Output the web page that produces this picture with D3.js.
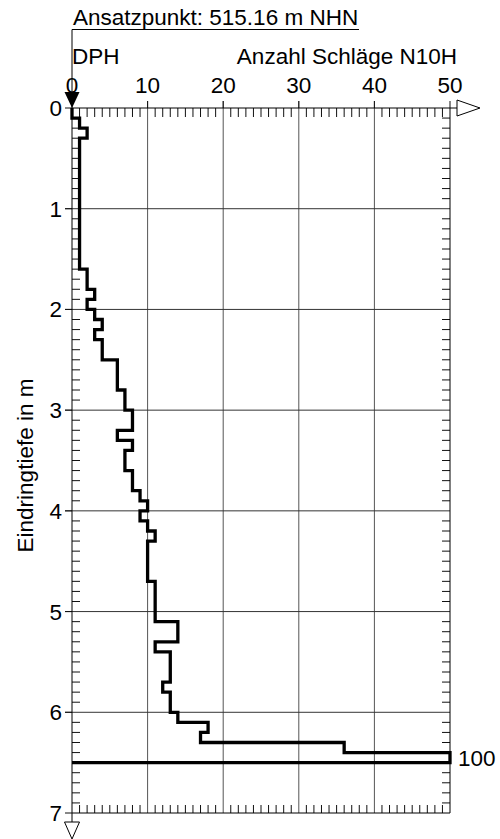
<!DOCTYPE html>
<html>
<head>
<meta charset="utf-8">
<script src="https://cdn.jsdelivr.net/npm/d3@7"></script>
<style>
html,body{margin:0;padding:0;background:#fff;}
svg{display:block;font-family:Arial,"Liberation Sans",sans-serif;}
</style>
</head>
<body>
<svg id="chart" width="500" height="839"></svg>
<script>
// ---- data ----
const title = "Ansatzpunkt: 515.16 m NHN";
const probeLabel = "DPH";
const xAxisTitle = "Anzahl Schläge N10H";
const yAxisTitle = "Eindringtiefe in m";
const xTicks = [0, 10, 20, 30, 40, 50];
const yTicks = [0, 1, 2, 3, 4, 5, 6, 7];
const interval = 0.1; // m per reading
// blows per 10 cm, from 0.0 m down to 6.5 m
const blows = [
  0, 1, 2, 1, 1, 1, 1, 1, 1, 1, 1, 1, 1, 1, 1, 1,   // 0.0 - 1.6
  2, 2, 3, 2, 3, 4, 3, 4, 4,                          // 1.6 - 2.5
  6, 6, 6, 7, 7, 8, 8, 6, 8, 7, 7,                    // 2.5 - 3.6
  8, 8, 9, 10, 9, 10, 11, 10, 10, 10, 10,             // 3.6 - 4.7
  11, 11, 11, 11, 14, 14, 11, 13, 13, 13, 12, 13, 13, // 4.7 - 6.0
  14, 18, 17, 36, 100                                 // 6.0 - 6.5
];

// ---- layout ----
const svg = d3.select("#chart");
const xMax = 50, yMax = 7;
const x = d3.scaleLinear().domain([0, xMax]).range([72, 450]);
const y = d3.scaleLinear().domain([0, yMax]).range([108, 813]);
const FS = 22.5;

// grid
svg.append("g").selectAll("line").data(xTicks.slice(1, -1)).join("line")
  .attr("x1", d => x(d)).attr("x2", d => x(d))
  .attr("y1", y(0) - 7).attr("y2", y(yMax))
  .attr("stroke", "#555").attr("stroke-width", 1);
svg.append("g").selectAll("line").data(yTicks.slice(1, -1)).join("line")
  .attr("x1", x(0) - 7).attr("x2", x(xMax))
  .attr("y1", d => y(d)).attr("y2", d => y(d))
  .attr("stroke", "#333").attr("stroke-width", 1);

// minor ticks
const yMinor = d3.range(1, yMax * 10).filter(i => i % 10 !== 0).map(i => i / 10);
const xMinor = d3.range(1, xMax).filter(i => i % 10 !== 0);
const tk = svg.append("g").attr("stroke", "#111").attr("stroke-width", 1);
tk.selectAll(".ml").data(yMinor).join("line").attr("class", "ml")
  .attr("x1", x(0)).attr("x2", x(0) + 8).attr("y1", d => y(d)).attr("y2", d => y(d));
tk.selectAll(".mr").data(yMinor).join("line").attr("class", "mr")
  .attr("x1", x(xMax) - 8).attr("x2", x(xMax)).attr("y1", d => y(d)).attr("y2", d => y(d));
tk.selectAll(".mt").data(xMinor).join("line").attr("class", "mt")
  .attr("x1", d => x(d)).attr("x2", d => x(d)).attr("y1", y(0)).attr("y2", y(0) + 9);
tk.selectAll(".mb").data(xMinor).join("line").attr("class", "mb")
  .attr("x1", d => x(d)).attr("x2", d => x(d)).attr("y1", y(yMax) - 8).attr("y2", y(yMax));

// major ticks left (outer)
tk.selectAll(".Ml").data(yTicks).join("line").attr("class", "Ml")
  .attr("x1", x(0) - 7).attr("x2", x(0)).attr("y1", d => y(d)).attr("y2", d => y(d));
tk.selectAll(".Mt").data(xTicks).join("line").attr("class", "Mt")
  .attr("x1", d => x(d)).attr("x2", d => x(d)).attr("y1", y(0) - 7).attr("y2", y(0));

// frame
const fr = svg.append("g").attr("stroke", "#000").attr("stroke-width", 1).attr("fill", "none");
fr.append("line").attr("x1", x(0)).attr("x2", x(xMax) + 7).attr("y1", y(0)).attr("y2", y(0));
fr.append("line").attr("x1", x(0)).attr("x2", x(xMax)).attr("y1", y(yMax)).attr("y2", y(yMax));
fr.append("line").attr("x1", x(0)).attr("x2", x(0)).attr("y1", y(0)).attr("y2", y(yMax) + 9);
fr.append("line").attr("x1", x(xMax)).attr("x2", x(xMax)).attr("y1", y(0)).attr("y2", y(yMax));
// open arrows
const ax = x(xMax) + 7, ay = y(0);
fr.append("path").attr("d", `M${ax},${ay - 8}L${ax + 23},${ay}L${ax},${ay + 8}Z`).attr("fill", "#fff");
const bx = x(0), by = y(yMax) + 9;
fr.append("path").attr("d", `M${bx - 7.5},${by}L${bx + 7.5},${by}L${bx},${by + 17}Z`).attr("fill", "#fff");

// title + pointer
svg.append("text").attr("x", x(0) + 1).attr("y", 25).attr("font-size", FS).attr("fill", "#000").text(title);
svg.append("line").attr("x1", x(0)).attr("x2", 359).attr("y1", 29.5).attr("y2", 29.5).attr("stroke", "#000");
svg.append("line").attr("x1", x(0)).attr("x2", x(0)).attr("y1", 29.5).attr("y2", 93).attr("stroke", "#000");
svg.append("path").attr("d", `M${x(0) - 7.5},92L${x(0) + 7.5},92L${x(0)},${y(0)}Z`).attr("fill", "#000");

// axis titles
svg.append("text").attr("x", x(0)).attr("y", 64).attr("font-size", FS).text(probeLabel);
svg.append("text").attr("x", 457).attr("y", 64).attr("font-size", FS).attr("text-anchor", "end").text(xAxisTitle);
svg.append("text").attr("transform", `translate(33,${(y(0) + y(yMax)) / 2 + 5}) rotate(-90)`)
  .attr("font-size", FS).attr("text-anchor", "middle").text(yAxisTitle);

// tick labels
svg.append("g").selectAll("text").data(xTicks).join("text")
  .attr("x", d => x(d)).attr("y", 93).attr("font-size", FS).attr("text-anchor", "middle").text(d => d);
svg.append("g").selectAll("text").data(yTicks).join("text")
  .attr("x", 62).attr("y", d => y(d) + 8).attr("font-size", FS).attr("text-anchor", "end").text(d => d);

// step profile
const pts = [[0, 0]];
blows.forEach((v, i) => {
  const c = Math.min(v, xMax);
  pts.push([c, i * interval], [c, (i + 1) * interval]);
});
pts.push([0, blows.length * interval]);
const line = d3.line().x(d => x(d[0])).y(d => y(d[1]));
svg.append("path").attr("d", line(pts)).attr("fill", "none")
  .attr("stroke", "#000").attr("stroke-width", 3.3).attr("stroke-linejoin", "miter");

// label for clipped values
svg.append("g").selectAll("text").data(blows.map((v, i) => ({v, i})).filter(d => d.v > xMax)).join("text")
  .attr("x", x(xMax) + 8).attr("y", d => y((d.i + 0.5) * interval) + 8)
  .attr("font-size", FS).text(d => d.v);
</script>
</body>
</html>
